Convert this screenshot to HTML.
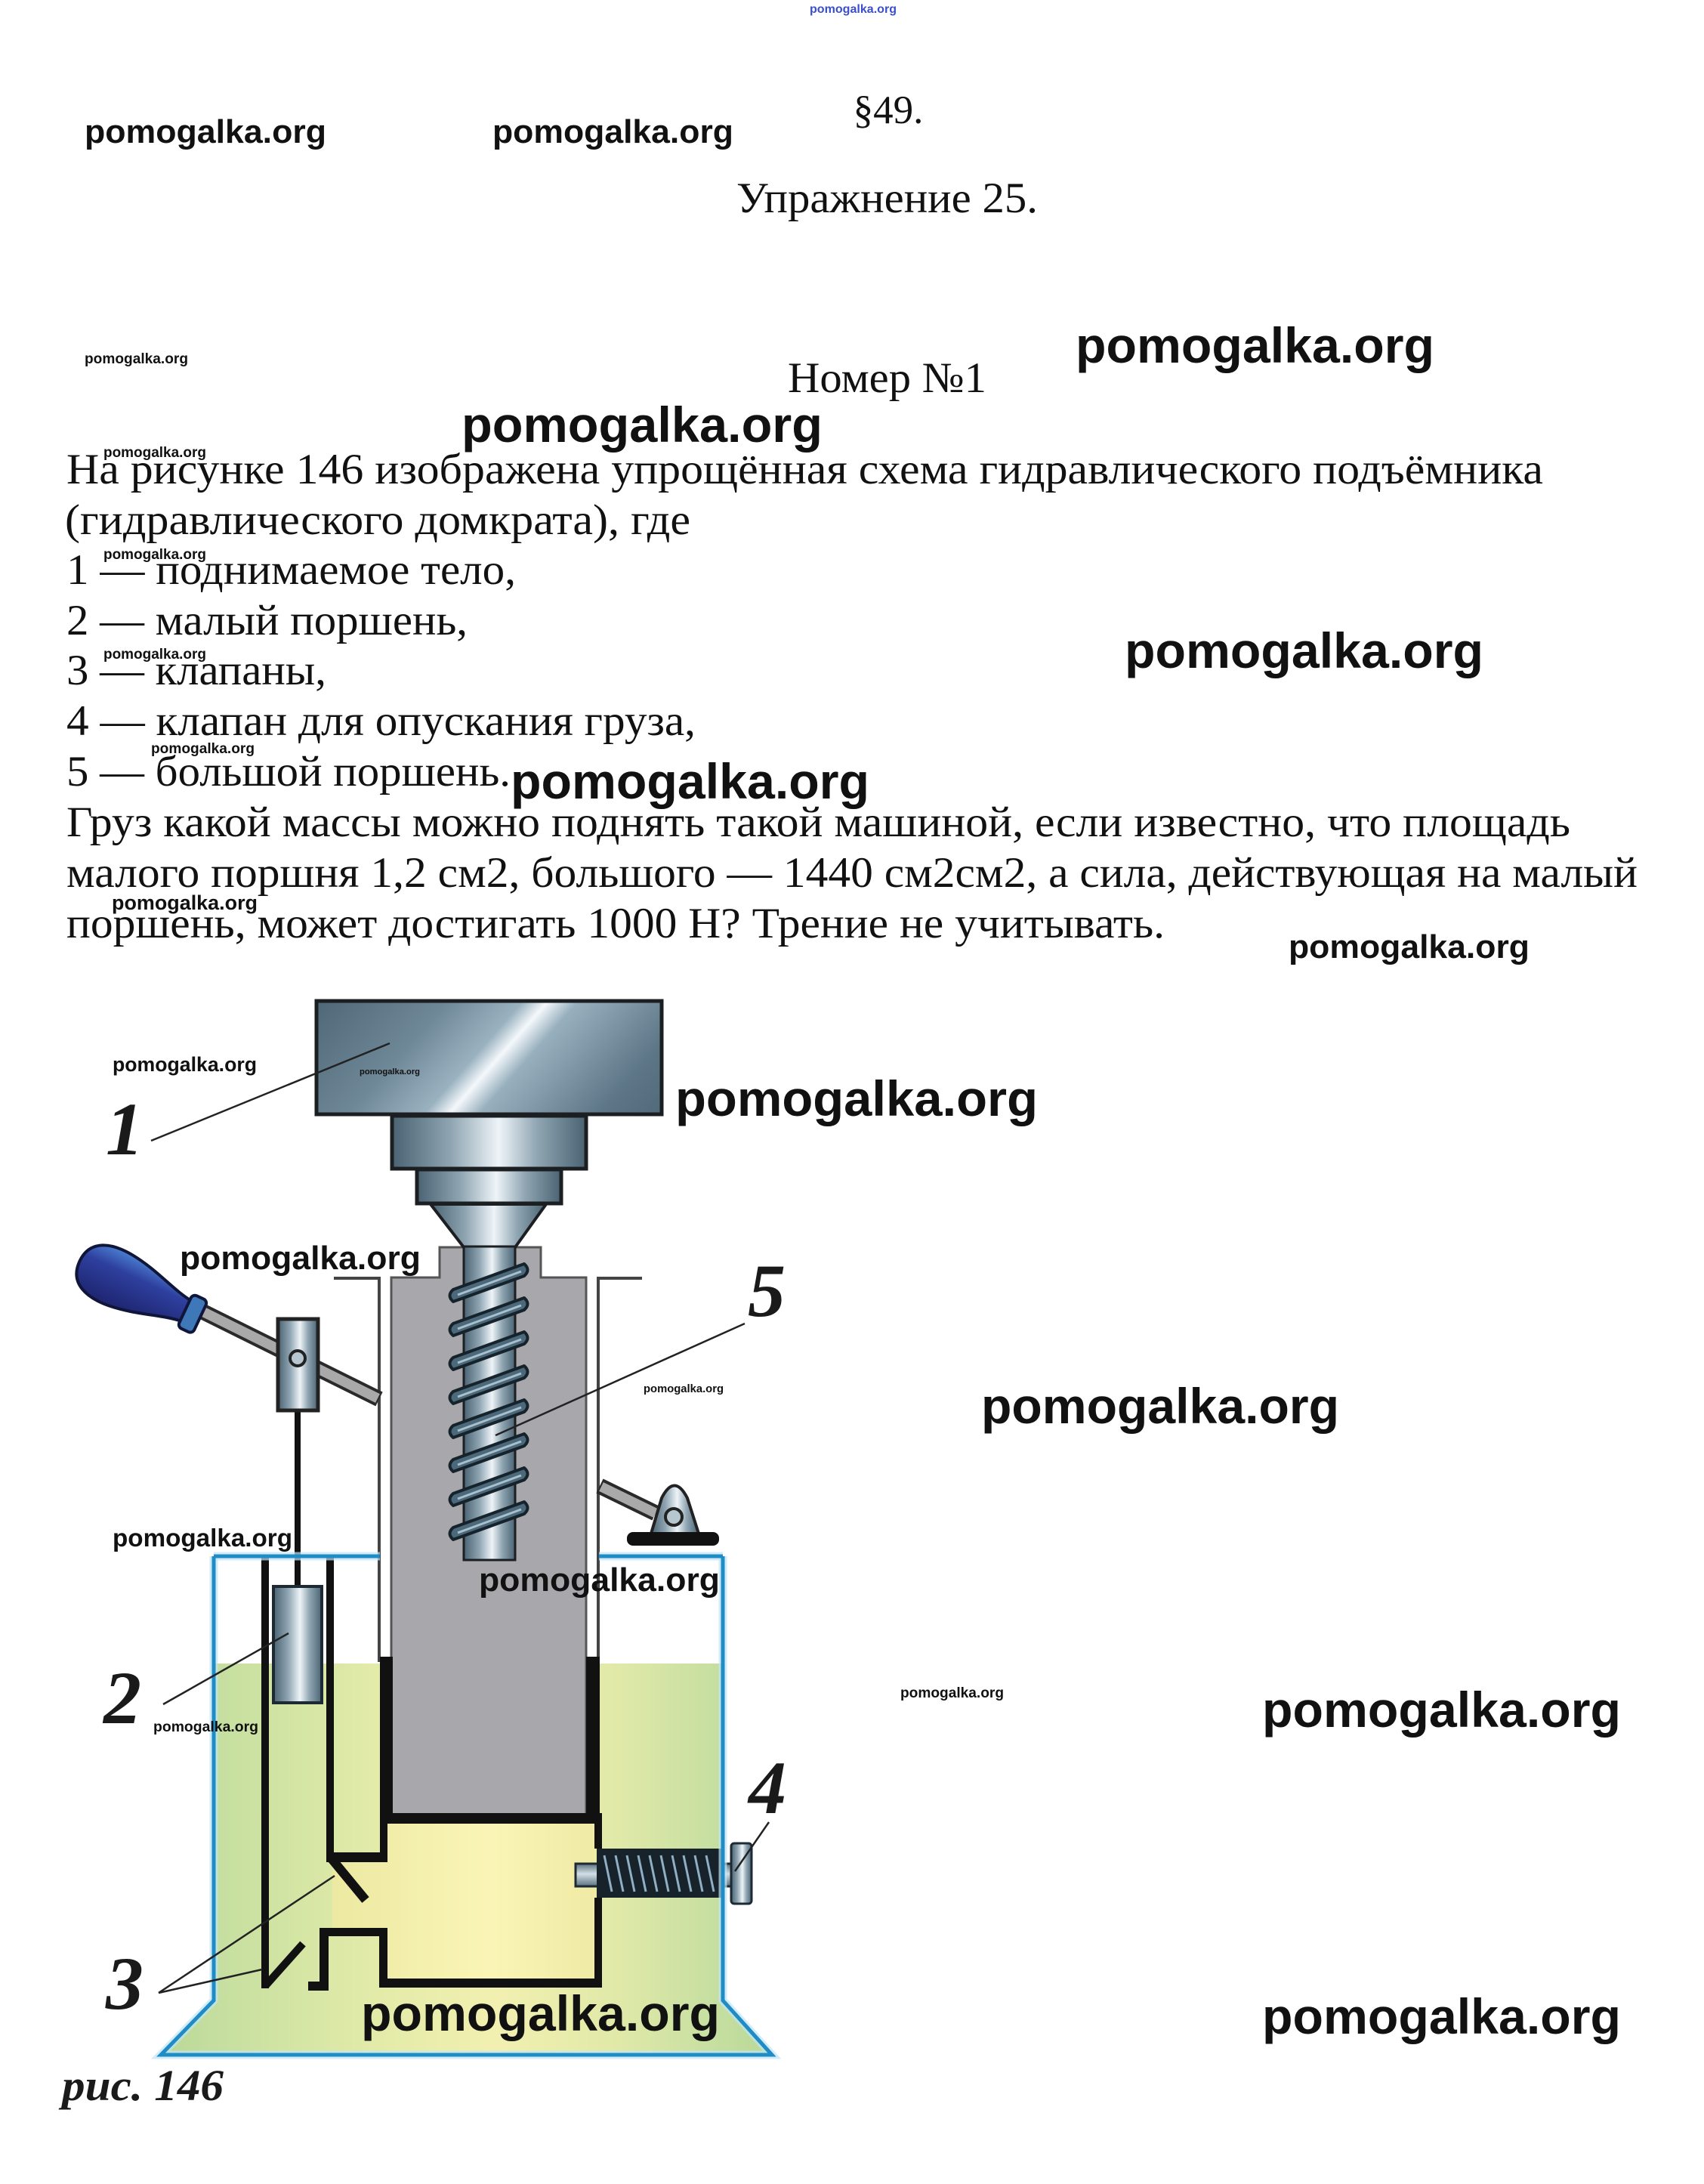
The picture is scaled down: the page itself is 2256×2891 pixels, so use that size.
<!DOCTYPE html>
<html>
<head>
<meta charset="utf-8">
<style>
  html,body{margin:0;padding:0;background:#fff;}
  svg{display:block;}
  .w{font-family:"Liberation Sans",sans-serif;font-weight:bold;fill:#111;}
  .b{font-family:"Liberation Serif","Noto Serif CJK SC",serif;font-size:57px;fill:#111;}
  .l{font-family:"Liberation Serif",serif;font-weight:bold;font-style:italic;font-size:100px;fill:#1a1a1a;}
</style>
</head>
<body>
<svg width="2256" height="2891" viewBox="0 0 2256 2891" xmlns="http://www.w3.org/2000/svg">
<defs>
  <linearGradient id="liq" gradientUnits="userSpaceOnUse" x1="213" y1="0" x2="1022" y2="0">
    <stop offset="0" stop-color="#b8d896"/>
    <stop offset="0.1" stop-color="#c6dfa0"/>
    <stop offset="0.35" stop-color="#e3eba9"/>
    <stop offset="0.55" stop-color="#f2f0b0"/>
    <stop offset="0.75" stop-color="#e0e9a8"/>
    <stop offset="0.92" stop-color="#c4dea0"/>
    <stop offset="1" stop-color="#b8d896"/>
  </linearGradient>
  <linearGradient id="cham" gradientUnits="userSpaceOnUse" x1="440" y1="0" x2="790" y2="0">
    <stop offset="0" stop-color="#ece9a2"/>
    <stop offset="0.6" stop-color="#faf5b6"/>
    <stop offset="1" stop-color="#efeaa4"/>
  </linearGradient>
  <linearGradient id="wt" gradientUnits="userSpaceOnUse" x1="472" y1="1235" x2="848" y2="1565">
    <stop offset="0" stop-color="#4a6272"/>
    <stop offset="0.3" stop-color="#6f8898"/>
    <stop offset="0.45" stop-color="#9ab2c0"/>
    <stop offset="0.5" stop-color="#f4f8fb"/>
    <stop offset="0.56" stop-color="#98b0be"/>
    <stop offset="0.8" stop-color="#5d7687"/>
    <stop offset="1" stop-color="#4a6272"/>
  </linearGradient>
  <linearGradient id="steelH" x1="0" y1="0" x2="1" y2="0">
    <stop offset="0" stop-color="#4a6272"/>
    <stop offset="0.3" stop-color="#8ea4b1"/>
    <stop offset="0.55" stop-color="#eef4f8"/>
    <stop offset="0.75" stop-color="#8fa5b2"/>
    <stop offset="1" stop-color="#4a6272"/>
  </linearGradient>
  <linearGradient id="steelV" x1="0" y1="0" x2="0" y2="1">
    <stop offset="0" stop-color="#58707f"/>
    <stop offset="0.45" stop-color="#d3dfe6"/>
    <stop offset="1" stop-color="#58707f"/>
  </linearGradient>
  <linearGradient id="grip" x1="0" y1="0" x2="0" y2="1">
    <stop offset="0" stop-color="#4a7fd0"/>
    <stop offset="0.35" stop-color="#2e3f9e"/>
    <stop offset="1" stop-color="#1e2570"/>
  </linearGradient>
</defs>

<!-- ============ HEADINGS ============ -->
<text class="b" x="1176" y="163" text-anchor="middle" style="font-size:53px">§49.</text>
<text class="b" x="975" y="281" textLength="399" lengthAdjust="spacingAndGlyphs">Упражнение 25.</text>
<text class="b" x="1043" y="519" textLength="263" lengthAdjust="spacingAndGlyphs">Номер №1</text>

<!-- ============ BODY TEXT ============ -->
<text class="b" x="88" y="640" textLength="1955" lengthAdjust="spacingAndGlyphs">На рисунке 146 изображена упрощённая схема гидравлического подъёмника</text>
<text class="b" x="86" y="707" textLength="828" lengthAdjust="spacingAndGlyphs">(гидравлического домкрата), где</text>
<text class="b" x="88" y="773" textLength="595" lengthAdjust="spacingAndGlyphs">1 — поднимаемое тело,</text>
<text class="b" x="88" y="840" textLength="531" lengthAdjust="spacingAndGlyphs">2 — малый поршень,</text>
<text class="b" x="88" y="906" textLength="344" lengthAdjust="spacingAndGlyphs">3 — клапаны,</text>
<text class="b" x="88" y="973" textLength="833" lengthAdjust="spacingAndGlyphs">4 — клапан для опускания груза,</text>
<text class="b" x="88" y="1040" textLength="588" lengthAdjust="spacingAndGlyphs">5 — большой поршень.</text>
<text class="b" x="88" y="1107" textLength="1991" lengthAdjust="spacingAndGlyphs">Груз какой массы можно поднять такой машиной, если известно, что площадь</text>
<text class="b" x="88" y="1174" textLength="2080" lengthAdjust="spacingAndGlyphs">малого поршня 1,2 см2, большого — 1440 см2см2, а сила, действующая на малый</text>
<text class="b" x="88" y="1241" textLength="1454" lengthAdjust="spacingAndGlyphs">поршень, может достигать 1000 Н? Трение не учитывать.</text>

<!-- ============ FIGURE ============ -->
<polygon points="283,2202 957,2202 957,2648 1022,2720 213,2720 283,2648" fill="url(#liq)"/>
<rect x="513" y="2413" width="277" height="209" fill="url(#cham)"/>
<rect x="440" y="2463" width="75" height="90" fill="url(#cham)"/>

<polygon points="518,1691 582,1691 582,1651 716,1651 716,1691 776,1691 776,2402 518,2402" fill="#a8a8ac" stroke="#555" stroke-width="3"/>

<line x1="442" y1="1692" x2="504" y2="1692" stroke="#444" stroke-width="4"/>
<line x1="502" y1="1690" x2="502" y2="2200" stroke="#444" stroke-width="4"/>
<line x1="790" y1="1692" x2="850" y2="1692" stroke="#444" stroke-width="4"/>
<line x1="792" y1="1690" x2="792" y2="2200" stroke="#444" stroke-width="4"/>

<rect x="503" y="2193" width="17" height="221" fill="#111"/>
<rect x="776" y="2193" width="18" height="221" fill="#111"/>
<rect x="503" y="2400" width="294" height="14" fill="#111"/>

<rect x="787" y="2400" width="10" height="47" fill="#111"/>
<rect x="787" y="2512" width="10" height="119" fill="#111"/>
<rect x="503" y="2619" width="294" height="12" fill="#111"/>
<rect x="503" y="2400" width="10" height="65" fill="#111"/>
<rect x="432" y="2452" width="81" height="13" fill="#111"/>
<rect x="432" y="2060" width="10" height="405" fill="#111"/>
<rect x="346" y="2058" width="10" height="574" fill="#111"/>
<line x1="437" y1="2458" x2="484" y2="2515" stroke="#111" stroke-width="12"/>
<rect x="423" y="2552" width="90" height="11" fill="#111"/>
<rect x="423" y="2552" width="12" height="83" fill="#111"/>
<rect x="408" y="2623" width="27" height="12" fill="#111"/>
<rect x="502" y="2552" width="11" height="79" fill="#111"/>
<line x1="352" y1="2628" x2="401" y2="2573" stroke="#111" stroke-width="10"/>

<rect x="390" y="1866" width="8" height="236" fill="#111"/>
<rect x="362" y="2100" width="64" height="154" fill="url(#steelH)" stroke="#1e2a33" stroke-width="4"/>

<rect x="762" y="2467" width="32" height="30" fill="url(#steelV)" stroke="#1e2a33" stroke-width="3"/>
<rect x="790" y="2447" width="167" height="65" fill="#17222b"/>
<g stroke="#8fb0c4" stroke-width="3">
  <line x1="800" y1="2456" x2="810" y2="2504"/>
  <line x1="815" y1="2456" x2="825" y2="2504"/>
  <line x1="830" y1="2456" x2="840" y2="2504"/>
  <line x1="845" y1="2456" x2="855" y2="2504"/>
  <line x1="860" y1="2456" x2="870" y2="2504"/>
  <line x1="875" y1="2456" x2="885" y2="2504"/>
  <line x1="890" y1="2456" x2="900" y2="2504"/>
  <line x1="905" y1="2456" x2="915" y2="2504"/>
  <line x1="920" y1="2456" x2="930" y2="2504"/>
  <line x1="935" y1="2456" x2="945" y2="2504"/>
</g>
<rect x="955" y="2467" width="15" height="30" fill="url(#steelV)" stroke="#1e2a33" stroke-width="3"/>
<rect x="968" y="2440" width="27" height="80" rx="4" fill="url(#steelH)" stroke="#1e2a33" stroke-width="3"/>

<g fill="none" stroke-linejoin="miter">
  <path d="M283,2060 L283,2648 L213,2720 L1022,2720 L957,2648 L957,2060" stroke="#bfe6f7" stroke-width="11" opacity="0.7"/>
  <path d="M283,2060 L503,2060 M793,2060 L957,2060" stroke="#bfe6f7" stroke-width="11" opacity="0.7"/>
  <path d="M283,2060 L283,2648 L213,2720 L1022,2720 L957,2648 L957,2060" stroke="#1f8cc6" stroke-width="5"/>
  <path d="M283,2060 L503,2060 M793,2060 L957,2060" stroke="#1f8cc6" stroke-width="5"/>
</g>

<rect x="419" y="1325" width="457" height="150" fill="url(#wt)" stroke="#1c1f22" stroke-width="5"/>
<rect x="519" y="1477" width="257" height="70" fill="url(#steelH)" stroke="#1c1f22" stroke-width="5"/>
<rect x="552" y="1548" width="191" height="45" fill="url(#steelH)" stroke="#1c1f22" stroke-width="5"/>
<polygon points="570,1594 723,1594 682,1651 614,1651" fill="url(#steelH)" stroke="#1c1f22" stroke-width="4"/>
<rect x="614" y="1650" width="68" height="415" fill="url(#steelH)" stroke="#1c1f22" stroke-width="3"/>

<g fill="#4b697b" stroke="#16232b" stroke-width="4" stroke-linejoin="round">
  <path d="M600,1707 L694,1673 Q703,1681 694,1689 L600,1723 Q591,1715 600,1707 Z"/>
  <path d="M600,1752 L694,1718 Q703,1726 694,1734 L600,1768 Q591,1760 600,1752 Z"/>
  <path d="M600,1797 L694,1763 Q703,1771 694,1779 L600,1813 Q591,1805 600,1797 Z"/>
  <path d="M600,1842 L694,1808 Q703,1816 694,1824 L600,1858 Q591,1850 600,1842 Z"/>
  <path d="M600,1887 L694,1853 Q703,1861 694,1869 L600,1903 Q591,1895 600,1887 Z"/>
  <path d="M600,1932 L694,1898 Q703,1906 694,1914 L600,1948 Q591,1940 600,1932 Z"/>
  <path d="M600,1977 L694,1943 Q703,1951 694,1959 L600,1993 Q591,1985 600,1977 Z"/>
  <path d="M600,2022 L694,1988 Q703,1996 694,2004 L600,2038 Q591,2030 600,2022 Z"/>
</g>
<g stroke="#a9c0cc" stroke-width="3">
  <line x1="606" y1="1714" x2="690" y2="1683"/>
  <line x1="606" y1="1759" x2="690" y2="1728"/>
  <line x1="606" y1="1804" x2="690" y2="1773"/>
  <line x1="606" y1="1849" x2="690" y2="1818"/>
  <line x1="606" y1="1894" x2="690" y2="1863"/>
  <line x1="606" y1="1939" x2="690" y2="1908"/>
  <line x1="606" y1="1984" x2="690" y2="1953"/>
  <line x1="606" y1="2029" x2="690" y2="1998"/>
</g>

<!-- left lever -->
<line x1="268" y1="1736" x2="502" y2="1852" stroke="#2a2a2a" stroke-width="21"/>
<line x1="268" y1="1736" x2="500" y2="1851" stroke="#a9a9a9" stroke-width="13"/>
<g transform="translate(158,1694) rotate(25)">
  <path d="M-58,0 C-58,-33 -28,-40 2,-37 C40,-33 70,-18 98,-15 L98,15 C70,18 40,33 2,37 C-28,40 -58,33 -58,0 Z" fill="url(#grip)" stroke="#10163a" stroke-width="4"/>
  <rect x="96" y="-24" width="22" height="48" rx="6" fill="#3f78b8" stroke="#10163a" stroke-width="4"/>
</g>
<rect x="368" y="1746" width="53" height="121" fill="url(#steelH)" stroke="#222" stroke-width="5"/>
<circle cx="394" cy="1798" r="10" fill="#b7c7d0" stroke="#222" stroke-width="4"/>

<!-- right lever & bracket -->
<line x1="794" y1="1967" x2="868" y2="2003" stroke="#2a2a2a" stroke-width="21"/>
<line x1="796" y1="1968" x2="868" y2="2003" stroke="#a9a9a9" stroke-width="13"/>
<path d="M862,2030 L876,1983 Q893,1950 910,1983 L925,2030 Z" fill="url(#steelH)" stroke="#222" stroke-width="4"/>
<circle cx="892" cy="2008" r="11" fill="#b7c7d0" stroke="#222" stroke-width="4"/>
<rect x="830" y="2028" width="122" height="18" rx="8" fill="#111"/>

<g stroke="#222" stroke-width="2.5">
  <line x1="200" y1="1510" x2="516" y2="1381"/>
  <line x1="986" y1="1752" x2="656" y2="1900"/>
  <line x1="216" y1="2256" x2="382" y2="2162"/>
  <line x1="210" y1="2638" x2="443" y2="2483"/>
  <line x1="210" y1="2638" x2="347" y2="2607"/>
  <line x1="1018" y1="2412" x2="973" y2="2477"/>
</g>

<text class="l" x="140" y="1528">1</text>
<text class="l" x="990" y="1742">5</text>
<text class="l" x="137" y="2281">2</text>
<text class="l" x="140" y="2659">3</text>
<text class="l" x="991" y="2400">4</text>
<text x="82" y="2780" textLength="214" lengthAdjust="spacingAndGlyphs" style="font-family:'Liberation Serif',serif;font-weight:bold;font-style:italic;font-size:58px;fill:#1a1a1a">рис. 146</text>

<!-- ============ WATERMARKS ============ -->
<text class="w" x="1072" y="17" style="font-size:16px;fill:#3a4fd0" textLength="115" lengthAdjust="spacingAndGlyphs">pomogalka.org</text>
<text class="w" x="112" y="189" style="font-size:44px" textLength="320" lengthAdjust="spacingAndGlyphs">pomogalka.org</text>
<text class="w" x="652" y="189" style="font-size:44px" textLength="319" lengthAdjust="spacingAndGlyphs">pomogalka.org</text>
<text class="w" x="112" y="481" style="font-size:19px" textLength="137" lengthAdjust="spacingAndGlyphs">pomogalka.org</text>
<text class="w" x="1424" y="480" style="font-size:66px" textLength="475" lengthAdjust="spacingAndGlyphs">pomogalka.org</text>
<text class="w" x="611" y="585" style="font-size:66px" textLength="478" lengthAdjust="spacingAndGlyphs">pomogalka.org</text>
<text class="w" x="137" y="605" style="font-size:19px" textLength="136" lengthAdjust="spacingAndGlyphs">pomogalka.org</text>
<text class="w" x="137" y="740" style="font-size:19px" textLength="136" lengthAdjust="spacingAndGlyphs">pomogalka.org</text>
<text class="w" x="1489" y="884" style="font-size:66px" textLength="475" lengthAdjust="spacingAndGlyphs">pomogalka.org</text>
<text class="w" x="137" y="872" style="font-size:19px" textLength="136" lengthAdjust="spacingAndGlyphs">pomogalka.org</text>
<text class="w" x="200" y="997" style="font-size:19px" textLength="137" lengthAdjust="spacingAndGlyphs">pomogalka.org</text>
<text class="w" x="676" y="1057" style="font-size:66px" textLength="475" lengthAdjust="spacingAndGlyphs">pomogalka.org</text>
<text class="w" x="148" y="1204" style="font-size:27px" textLength="193" lengthAdjust="spacingAndGlyphs">pomogalka.org</text>
<text class="w" x="1706" y="1268" style="font-size:44px" textLength="319" lengthAdjust="spacingAndGlyphs">pomogalka.org</text>
<text class="w" x="149" y="1418" style="font-size:27px" textLength="191" lengthAdjust="spacingAndGlyphs">pomogalka.org</text>
<text class="w" x="476" y="1422" style="font-size:11px" textLength="80" lengthAdjust="spacingAndGlyphs">pomogalka.org</text>
<text class="w" x="894" y="1477" style="font-size:66px" textLength="480" lengthAdjust="spacingAndGlyphs">pomogalka.org</text>
<text class="w" x="238" y="1680" style="font-size:44px" textLength="319" lengthAdjust="spacingAndGlyphs">pomogalka.org</text>
<text class="w" x="852" y="1843" style="font-size:15px" textLength="106" lengthAdjust="spacingAndGlyphs">pomogalka.org</text>
<text class="w" x="1299" y="1884" style="font-size:66px" textLength="474" lengthAdjust="spacingAndGlyphs">pomogalka.org</text>
<text class="w" x="149" y="2047" style="font-size:33px" textLength="238" lengthAdjust="spacingAndGlyphs">pomogalka.org</text>
<text class="w" x="634" y="2106" style="font-size:44px" textLength="319" lengthAdjust="spacingAndGlyphs">pomogalka.org</text>
<text class="w" x="203" y="2292" style="font-size:19px" textLength="139" lengthAdjust="spacingAndGlyphs">pomogalka.org</text>
<text class="w" x="1192" y="2247" style="font-size:19px" textLength="137" lengthAdjust="spacingAndGlyphs">pomogalka.org</text>
<text class="w" x="1671" y="2286" style="font-size:66px" textLength="475" lengthAdjust="spacingAndGlyphs">pomogalka.org</text>
<text class="w" x="478" y="2688" style="font-size:66px" textLength="475" lengthAdjust="spacingAndGlyphs">pomogalka.org</text>
<text class="w" x="1671" y="2692" style="font-size:66px" textLength="475" lengthAdjust="spacingAndGlyphs">pomogalka.org</text>
</svg>
</body>
</html>
